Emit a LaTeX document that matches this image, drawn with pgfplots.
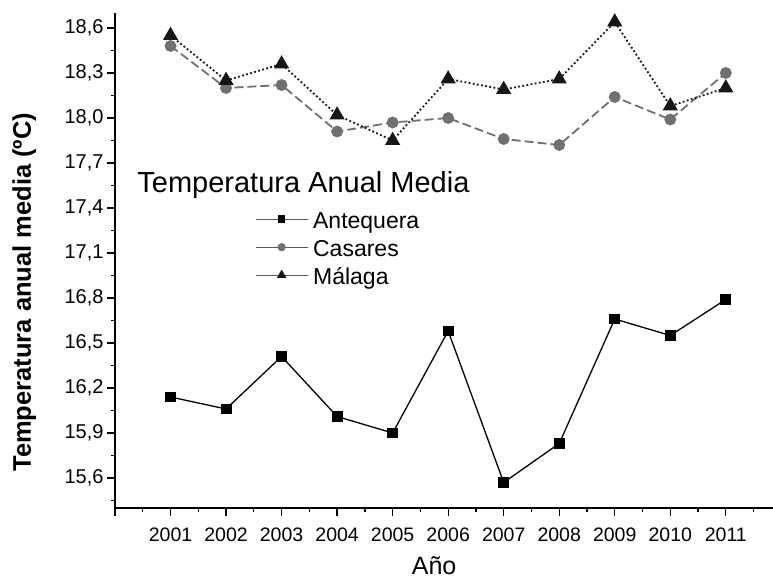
\documentclass[border=0pt]{standalone}
\usepackage{fontspec}
\setmainfont{Liberation Sans}
\usepackage{pgfplots}
\usepackage{pgfplotstable}
\pgfplotsset{compat=1.18}

\definecolor{casgray}{RGB}{112,112,112}
\definecolor{malblack}{RGB}{22,22,22}
\definecolor{leggray}{RGB}{90,90,90}

% Temperatura anual media (grados C) por localidad
\pgfplotstableread{
year ant   cas   mal
2001 16.14 18.48 18.55
2002 16.06 18.20 18.25
2003 16.41 18.22 18.36
2004 16.01 17.91 18.02
2005 15.90 17.97 17.85
2006 16.58 18.00 18.26
2007 15.57 17.86 18.19
2008 15.83 17.82 18.26
2009 16.66 18.14 18.64
2010 16.55 17.99 18.08
2011 16.79 18.30 18.20
}\temps

\begin{document}
\begin{tikzpicture}
\begin{axis}[
  name=ax,
  scale only axis, width=658bp, height=495bp,
  xmin=2000, xmax=2011.85, ymin=15.4, ymax=18.7,
  axis x line*=bottom, axis y line*=left,
  axis line style={line width=1.3bp, black},
  tick align=outside,
  major tick length=8bp, minor tick length=4bp,
  tick style={line width=1.3bp, black},
  xtick={2000,2001,2002,2003,2004,2005,2006,2007,2008,2009,2010,2011},
  xticklabels={,2001,2002,2003,2004,2005,2006,2007,2008,2009,2010,2011},
  minor xtick={2000.5,2001.5,2002.5,2003.5,2004.5,2005.5,2006.5,2007.5,2008.5,2009.5,2010.5,2011.5},
  ytick={15.6,15.9,16.2,16.5,16.8,17.1,17.4,17.7,18.0,18.3,18.6},
  minor ytick={15.45,15.75,16.05,16.35,16.65,16.95,17.25,17.55,17.85,18.15,18.45},
  /pgf/number format/assume math mode=true,
  /pgf/number format/use comma,
  /pgf/number format/fixed,
  /pgf/number format/fixed zerofill,
  /pgf/number format/precision=1,
  y tick label style={font=\fontsize{20bp}{24bp}\selectfont},
  x tick label style={font=\fontsize{19.5bp}{23bp}\selectfont, yshift=-8bp},
  every axis y label/.style={at={(rel axis cs:-0.1277,0.436)}, rotate=90, anchor=base},
  every axis x label/.style={at={(rel axis cs:0.485,-0.134)}, anchor=base, inner sep=0pt},
  ylabel={\fontsize{25.5bp}{30bp}\selectfont\bfseries Temperatura anual media (ºC)},
  xlabel={\fontsize{25bp}{29bp}\selectfont Año},
  clip=false,
  legend style={at={(axis cs:2002.52,17.40)}, anchor=north west, draw=none, fill=none,
    inner sep=0pt, row sep=0pt, column sep=3bp,
    font=\fontsize{23bp}{27bp}\selectfont,
    nodes={inner sep=2bp, text height=18bp, text depth=6bp}},
  legend cell align=left,
  legend image code/.code={\draw[mark repeat=2,mark phase=2,#1] plot coordinates {(0bp,3bp) (26bp,3bp) (52bp,3bp)};},
]
\addplot[black, line width=1.3bp, mark=square*, mark size=4.8bp, forget plot]
  table[x=year, y=ant] {\temps};
\addplot[casgray, line width=1.8bp, dash pattern=on 9bp off 4bp, mark=*, mark size=5bp,
  mark options={solid, fill=casgray, draw=casgray}, forget plot]
  table[x=year, y=cas] {\temps};
\addplot[malblack, line width=1.8bp, dash pattern=on 1.8bp off 2.4bp, mark=triangle*, mark size=7bp,
  mark options={solid, fill=malblack}, forget plot]
  table[x=year, y=mal] {\temps};

\addlegendimage{leggray, line width=1bp, mark=square*, mark size=3.3bp, mark options={black, fill=black}}
\addlegendentry{Antequera}
\addlegendimage{leggray, line width=1bp, mark=*, mark size=3.6bp, mark options={casgray, fill=casgray}}
\addlegendentry{Casares}
\addlegendimage{leggray, line width=1bp, mark=triangle*, mark size=4.6bp, mark options={malblack, fill=malblack}}
\addlegendentry{Málaga}

\node[anchor=base west, font=\fontsize{29bp}{35bp}\selectfont, inner sep=0pt]
  at (axis cs:2000.40,17.50) {Temperatura Anual Media};
\end{axis}
\pgfresetboundingbox
\path[use as bounding box] ([shift={(-115bp,-72bp)}]ax.south west) rectangle ([shift={(658bp,508bp)}]ax.south west);
\end{tikzpicture}
\end{document}
